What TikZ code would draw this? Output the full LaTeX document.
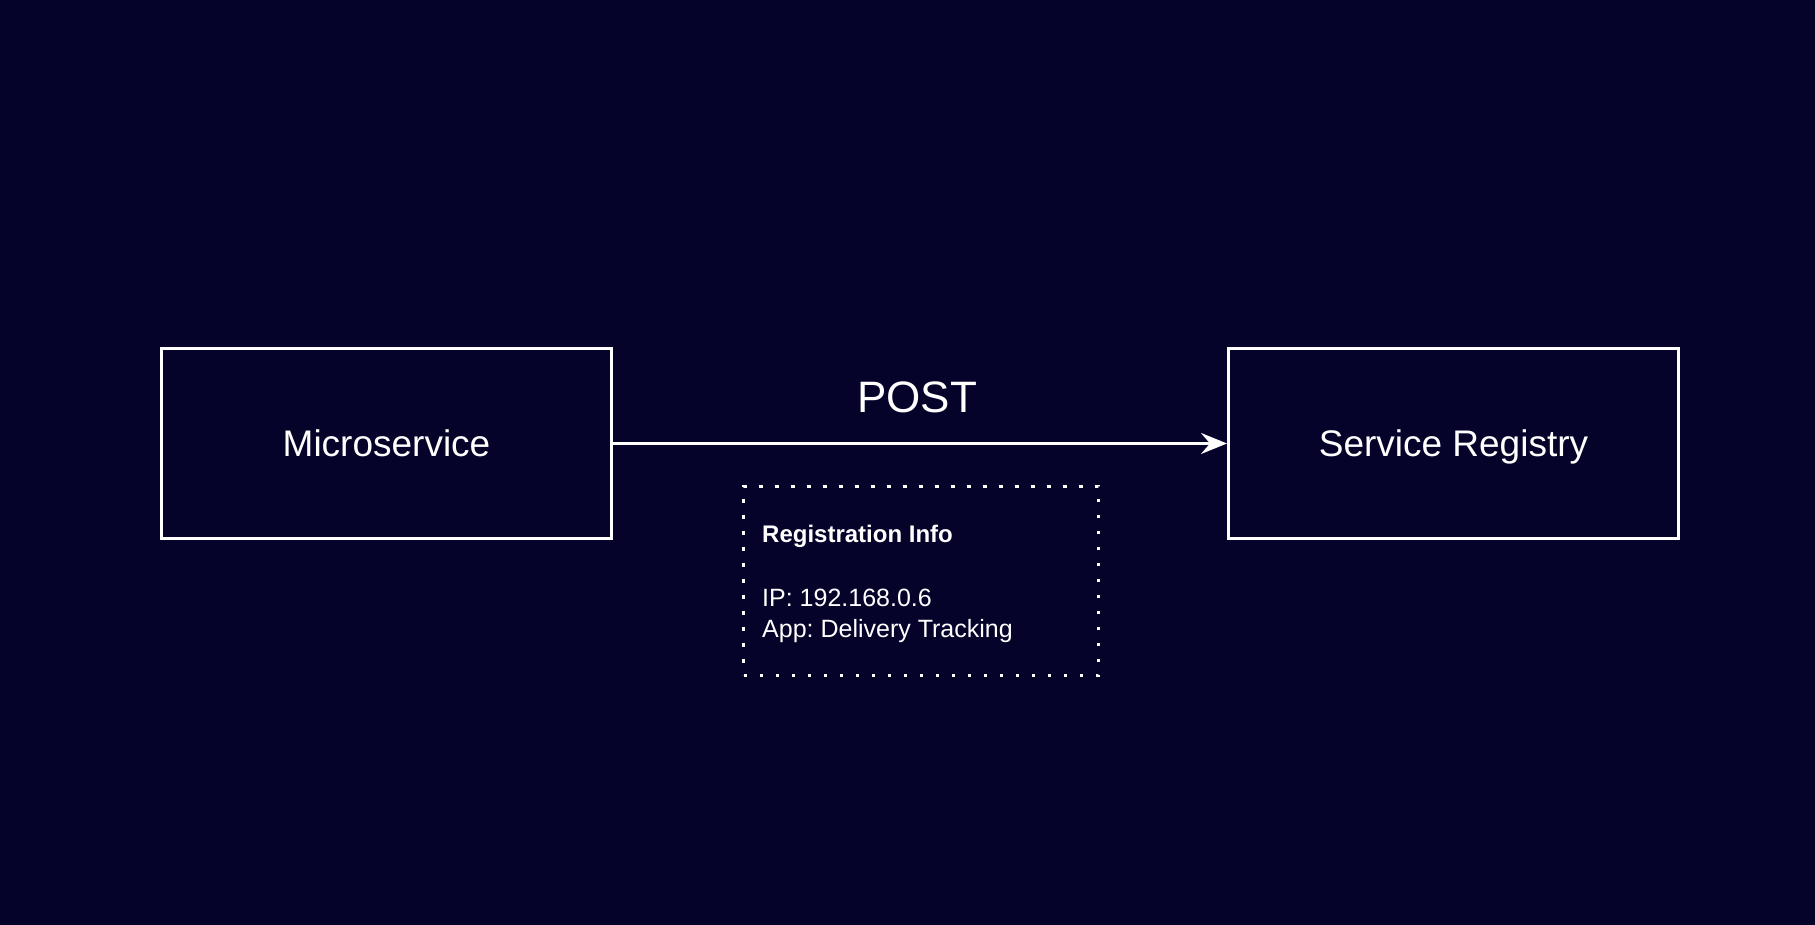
\documentclass[tikz,border=0pt]{standalone}
\usepackage{fontspec}
\setmainfont{Liberation Sans}
\usetikzlibrary{arrows.meta}
\definecolor{bg}{RGB}{5,3,42}
\frenchspacing
\tikzset{
  svcbox/.style={draw=white, line width=3pt, minimum width=450pt, minimum height=190pt, inner sep=0pt, text height=26.5pt, text depth=0pt, text=white, font=\fontsize{37}{44}\selectfont},
  infobox/.style={draw=white, line width=3.3pt, dash pattern=on 3.3pt off 12.7pt, minimum width=355pt, minimum height=189pt, inner sep=0pt},
  infotext/.style={text=white, anchor=base west, inner sep=0pt, font=\fontsize{25}{30}\selectfont},
  flow/.style={draw=white, line width=3pt, -{Stealth[length=26pt, width=21pt, inset=9pt]}},
}
\begin{document}
\begin{tikzpicture}[x=1pt, y=1pt]
  \fill[bg] (0,0) rectangle (1815,925);
  \useasboundingbox (0,0) rectangle (1815,925);
  \node[svcbox] (ms) at (386.5,481.5) {Microservice};
  \node[svcbox] (sr) at (1453.5,481.5) {Service Registry};
  \draw[flow] (ms.east) -- (sr.west);
  \node[text=white, anchor=base, inner sep=0pt, font=\fontsize{44}{52}\selectfont] (post) at (917,512) {POST};
  \node[infobox] (info) at (921,344) {};
  \node[infotext, font=\bfseries\fontsize{24}{30}\selectfont] (title) at (762,382) {Registration Info};
  \node[infotext] (ip) at (762,318) {IP: 192.168.0.6};
  \node[infotext] (app) at (762,287) {App: Delivery Tracking};
\end{tikzpicture}
\end{document}
